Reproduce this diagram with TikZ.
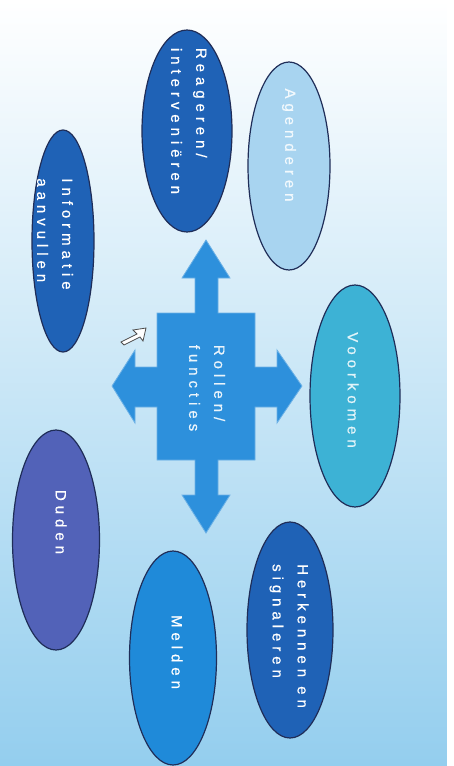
\documentclass[tikz,border=0pt]{standalone}
\usepackage{fontspec}
\setmainfont{Liberation Sans}[LetterSpace=33, FakeBold=0.6]
\usetikzlibrary{shapes.geometric}
\definecolor{edge}{HTML}{1F2D58}
\definecolor{bgblue}{HTML}{94CEEE}
\definecolor{bgmid}{HTML}{D2EBF8}
\definecolor{darkrole}{HTML}{1F62B6}
\definecolor{lightrole}{HTML}{A8D4F0}
\definecolor{tealrole}{HTML}{3DB2D5}
\definecolor{purplerole}{HTML}{5262B8}
\definecolor{midrole}{HTML}{1F8AD9}
\definecolor{crossblue}{HTML}{2D90DC}

\begin{document}
\begin{tikzpicture}[x=1pt, y=-1pt,
  role/.style={ellipse, draw=edge, line width=1.2pt, inner sep=0pt},
  lbl/.style={rotate=-90, align=left, inner sep=0pt, text=white, font=\fontsize{15}{25}\selectfont}]
\useasboundingbox (0,0) rectangle (454,766);
\shade [top color=white, middle color=bgmid, bottom color=bgblue] (0,0) rectangle (447,766);
\fill [white] (447,0) rectangle (454,766);

% ellipses round the centre
\node (REAG) at (187,131) [role, fill=darkrole, minimum width=90pt, minimum height=202pt] {};
\node (AGEN) at (289,166) [role, fill=lightrole, minimum width=82pt, minimum height=208pt] {};
\node (INFO) at (63,241) [role, fill=darkrole, minimum width=62pt, minimum height=222pt] {};
\node (VOOR) at (355,396) [role, fill=tealrole, minimum width=90pt, minimum height=222pt] {};
\node (HERK) at (290,630) [role, fill=darkrole, minimum width=86pt, minimum height=216pt] {};
\node (DUID) at (56,540) [role, fill=purplerole, minimum width=87pt, minimum height=220pt] {};
\node (MELD) at (173,658) [role, fill=midrole, minimum width=87pt, minimum height=214pt] {};

\node (REAGt) at (189,121) [lbl] {Reageren/\\interveniëren};
\node (AGENt) at (289,145) [lbl, text=white!85!lightrole] {Agenderen};
\node (INFOt) at (55,234) [lbl] {Informatie\\aanvullen};
\node (VOORt) at (353,390) [lbl, text=white!85!tealrole] {Voorkomen};
\node (HERKt) at (289,636) [lbl] {Herkennen en\\signaleren};
\node (DUIDt) at (61,522) [lbl] {Duden};
\node (MELDt) at (177,652) [lbl] {Melden};

% cross of four arrows
\fill [crossblue, draw=crossblue!70!white, line width=0.8pt]
  (157,313) -- (195,313) -- (195,278) -- (182,278) -- (206,240) -- (230,278) -- (218,278) -- (218,313)
  -- (255,313) -- (255,367) -- (277,367) -- (277,350) -- (302,386) -- (277,423) -- (277,407) -- (255,407)
  -- (255,460) -- (218,460) -- (218,495) -- (230,495) -- (206,533) -- (182,495) -- (195,495) -- (195,460)
  -- (157,460) -- (157,407) -- (135,407) -- (135,423) -- (112,386) -- (135,350) -- (135,367) -- (157,367) -- cycle;
\node (ROL) at (207,388) [lbl, text=white!90!crossblue] {Rollen/\\functies};

% pointer
\filldraw [fill=white, draw=black!70, line width=0.8pt]
  (146,328) -- (133,330) -- (137,334) -- (121,342) -- (124,345) -- (140,337) -- (143,341) -- cycle;
\end{tikzpicture}
\end{document}
